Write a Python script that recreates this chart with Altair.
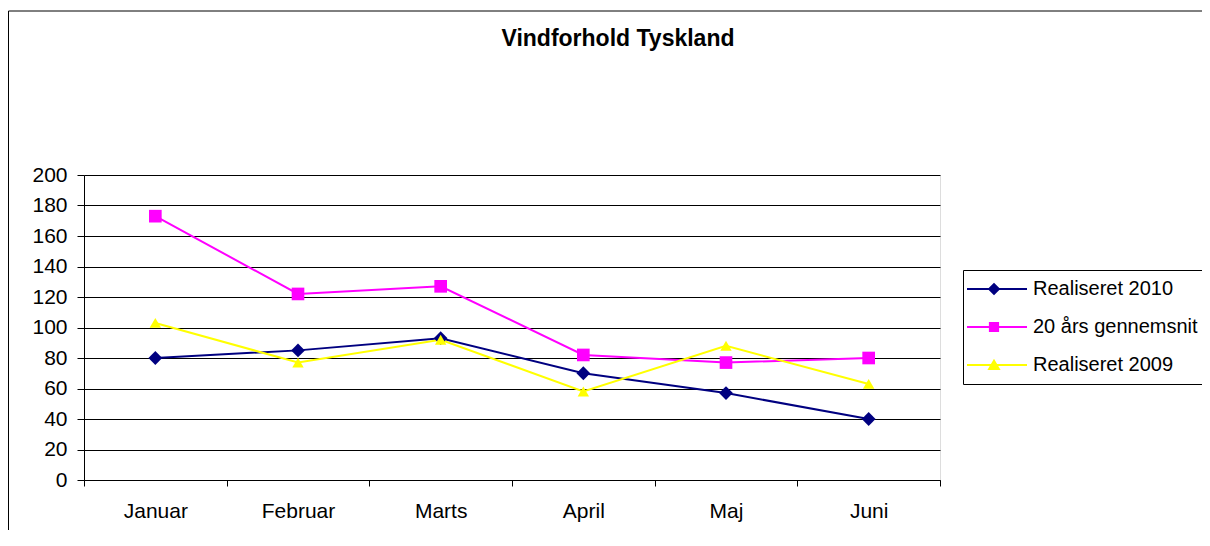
import altair as alt
import pandas as pd

months = ["Januar", "Februar", "Marts", "April", "Maj", "Juni"]
series_names = ["Realiseret 2010", "20 års gennemsnit", "Realiseret 2009"]
realiseret_2010 = [80, 85, 93, 70, 57, 40]
gennemsnit_20 = [173, 122, 127, 82, 77, 80]
realiseret_2009 = [103, 77, 92, 58, 88, 63]
y_ticks = [0, 20, 40, 60, 80, 100, 120, 140, 160, 180, 200]
chart_title = "Vindforhold Tyskland"

colors = ["#000080", "#FF00FF", "#FFFF00"]
plot_shapes = ["diamond", "square", "triangle-up"]
marker_sizes = [190, 130, 190]
# legend symbols: line segment + marker (unit coordinates)
legend_shapes = [
    "M-2.5,-0.17H7.5V0.17H-2.5Z M0.95,0L2,-1.05L3.05,0L2,1.05Z",
    "M-2.5,-0.17H7.5V0.17H-2.5Z M1.15,-0.85H2.85V0.85H1.15Z",
    "M-2.5,-0.17H7.5V0.17H-2.5Z M2,-1.05L3.1,0.85L0.9,0.85Z",
]

rows = []
for name, vals in zip(series_names, [realiseret_2010, gennemsnit_20, realiseret_2009]):
    for m, v in zip(months, vals):
        rows.append({"month": m, "value": v, "series": name})
df = pd.DataFrame(rows)

FONT = "Liberation Sans"

x_enc = alt.X(
    "month:N",
    sort=months,
    scale=alt.Scale(type="band", paddingInner=0, paddingOuter=0),
    axis=alt.Axis(
        title=None, labelAngle=0, tickBand="extent", tickSize=6, tickColor="black",
        domainColor="black", labelFontSize=21, labelFont=FONT, labelColor="black",
        labelPadding=14, grid=False,
    ),
)
y_enc = alt.Y(
    "value:Q",
    scale=alt.Scale(domain=[0, 200], nice=False),
    axis=alt.Axis(
        title=None, values=y_ticks, tickSize=7, tickColor="black", domainColor="black",
        labelFontSize=21, labelFont=FONT, labelColor="black", labelPadding=10,
        grid=True, gridColor="black", gridWidth=1, gridOpacity=1,
    ),
)
color_scale = alt.Scale(domain=series_names, range=colors)

base = alt.Chart(df)

border = alt.Chart(alt.Data(values=[{}])).mark_rect(
    fill=None, stroke="black", strokeWidth=1
).encode(x=alt.value(-75.5), x2=alt.value(1200), y=alt.value(-164), y2=alt.value(420))

title_text = alt.Chart(alt.Data(values=[{"t": chart_title}])).mark_text(
    font=FONT, fontSize=23, fontWeight="bold", color="black",
    align="center", baseline="alphabetic",
).encode(text="t:N", x=alt.value(534), y=alt.value(-129))

lines = base.mark_line(strokeWidth=2).encode(
    x=x_enc, y=y_enc,
    color=alt.Color("series:N", scale=color_scale, legend=None),
)

points = base.mark_point(filled=True, opacity=1, strokeWidth=0).encode(
    x=x_enc, y=y_enc,
    color=alt.Color("series:N", scale=color_scale, legend=None),
    shape=alt.Shape("series:N", scale=alt.Scale(domain=series_names, range=plot_shapes), legend=None),
    size=alt.Size("series:N", scale=alt.Scale(domain=series_names, range=marker_sizes), legend=None),
)

leg = dict(
    title=None, orient="none", legendX=879, legendY=95,
    strokeColor="black", fillColor="white", padding=9, rowPadding=18,
    labelFontSize=20, labelFont=FONT, labelColor="black", labelOffset=41,
    symbolSize=144, symbolStrokeWidth=0, symbolOpacity=1, labelLimit=300,
)

legend_layer = base.mark_point(filled=True, opacity=0, size=144).encode(
    x=x_enc, y=y_enc,
    color=alt.Color("series:N", scale=color_scale, legend=alt.Legend(**leg)),
    shape=alt.Shape(
        "series:N", scale=alt.Scale(domain=series_names, range=legend_shapes),
        legend=alt.Legend(**leg),
    ),
)

chart = (
    alt.layer(border, title_text, lines, points, legend_layer)
    .resolve_scale(color="independent", shape="independent", size="independent")
    .properties(
        width=856, height=305,
        autosize=alt.AutoSizeParams(type="none"),
        padding={"left": 76, "top": 167, "right": 262, "bottom": 50},
    )
    .configure_view(fill="#C0C0C0", stroke="#808080", strokeWidth=1)
    .configure(background="white")
)

chart.save("out.html", embed_options={"renderer": "svg", "actions": False})
